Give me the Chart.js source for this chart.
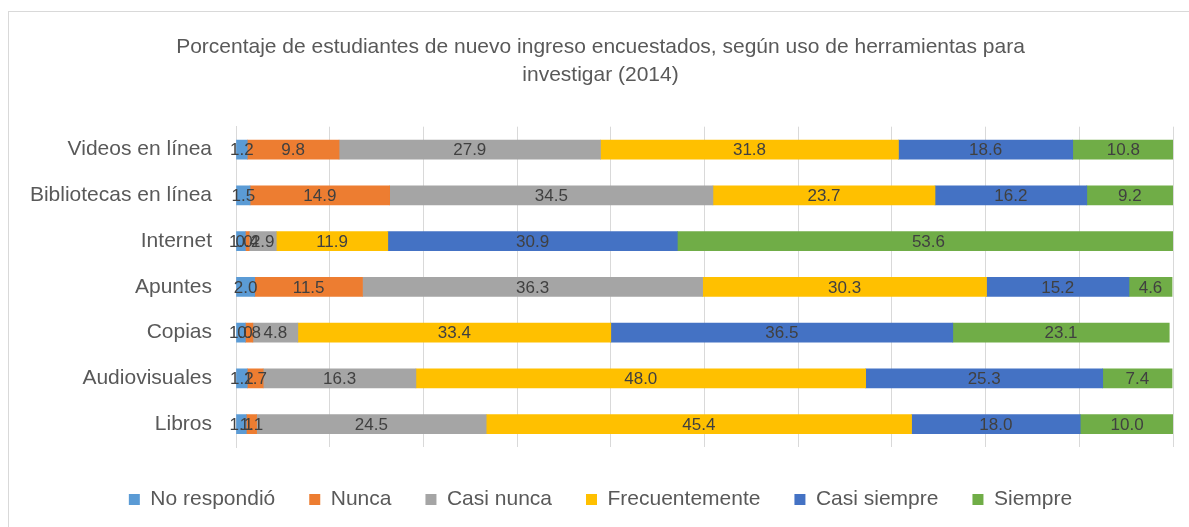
<!DOCTYPE html>
<html>
<head>
<meta charset="utf-8">
<script src="https://cdn.jsdelivr.net/npm/chart.js@4.4.1/dist/chart.umd.min.js"></script>
<style>
  html, body { margin: 0; padding: 0; background: #fff; }
  #wrap { position: relative; width: 1189px; height: 527px; overflow: hidden; }
  #frame {
    position: absolute; left: 8px; top: 11px; width: 1200px; height: 530px;
    border: 1px solid #d9d9d9; box-sizing: border-box;
  }
  #chartBox { position: absolute; left: 0; top: 0; width: 1189px; height: 527px; }
</style>
</head>
<body>
<div id="wrap">
  <div id="frame"></div>
  <div id="chartBox"><canvas id="toolsChart"></canvas></div>
</div>
<script>
// ================================
// DATA
// ================================

const categories = [
    "Videos en línea",
    "Bibliotecas en línea",
    "Internet",
    "Apuntes",
    "Copias",
    "Audiovisuales",
    "Libros"
];

const noRespondio    = [1.2, 1.5, 1.0, 2.0, 1.0, 1.2, 1.1];
const nunca          = [9.8, 14.9, 0.4, 11.5, 0.8, 1.7, 1.1];
const casiNunca      = [27.9, 34.5, 2.9, 36.3, 4.8, 16.3, 24.5];
const frecuentemente = [31.8, 23.7, 11.9, 30.3, 33.4, 48.0, 45.4];
const casiSiempre    = [18.6, 16.2, 30.9, 15.2, 36.5, 25.3, 18.0];
const siempre        = [10.8, 9.2, 53.6, 4.6, 23.1, 7.4, 10.0];

const FONT = "'Liberation Sans', Arial, sans-serif";

// ================================
// BAR LABELS (inline plugin)
// ================================

const barLabels = {
    id: "barLabels",
    afterDatasetsDraw(chart) {
        const ctx = chart.ctx;
        ctx.save();
        ctx.font = "17px " + FONT;
        ctx.fillStyle = "#404040";
        ctx.textAlign = "center";
        ctx.textBaseline = "middle";
        chart.data.datasets.forEach((ds, di) => {
            const meta = chart.getDatasetMeta(di);
            meta.data.forEach((bar, i) => {
                const v = ds.data[i];
                const cx = (bar.x + bar.base) / 2;
                ctx.fillText(v.toFixed(1), cx, bar.y + 1);
            });
        });
        ctx.restore();
    }
};

// ================================
// CHART
// ================================

const toolsCtx = document.getElementById("toolsChart");

const makeSet = (label, data, color) => ({
    label: label,
    data: data,
    backgroundColor: color,
    borderWidth: 0,
    barThickness: 19
});

new Chart(toolsCtx, {
    type: "bar",

    data: {
        labels: categories,
        datasets: [
            makeSet("No respondió", noRespondio, "#5b9bd5"),
            makeSet("Nunca", nunca, "#ed7d31"),
            makeSet("Casi nunca", casiNunca, "#a5a5a5"),
            makeSet("Frecuentemente", frecuentemente, "#ffc000"),
            makeSet("Casi siempre", casiSiempre, "#4472c4"),
            makeSet("Siempre", siempre, "#70ad47")
        ]
    },

    options: {
        indexAxis: "y",
        responsive: true,
        maintainAspectRatio: false,
        animation: false,

        layout: {
            padding: { left: 14, right: 2, top: 33, bottom: 7 }
        },

        plugins: {
            title: {
                display: true,
                text: [
                    "Porcentaje de estudiantes de nuevo ingreso encuestados, según uso de herramientas para",
                    "investigar (2014)"
                ],
                color: "#595959",
                font: { family: FONT, size: 21, weight: "normal", lineHeight: 1.35 },
                padding: { top: 0, bottom: 37 }
            },
            legend: {
                position: "bottom",
                labels: {
                    color: "#595959",
                    font: { family: FONT, size: 21 },
                    boxWidth: 11,
                    boxHeight: 11,
                    padding: 34
                }
            },
            tooltip: { enabled: false }
        },

        scales: {
            x: {
                stacked: true,
                min: 0,
                max: 100,
                afterFit(scale) { scale.height = 8; },
                ticks: { stepSize: 10, display: false },
                grid: { color: "#d9d9d9", drawTicks: false },
                border: { display: false }
            },
            y: {
                stacked: true,
                afterFit(scale) { scale.width = 222; },
                ticks: {
                    color: "#595959",
                    font: { family: FONT, size: 21 },
                    padding: 16
                },
                grid: { display: false },
                border: { display: true, color: "#d9d9d9" }
            },
            y2: {
                position: "right",
                afterFit(scale) { scale.width = 14; },
                ticks: { display: false },
                grid: { display: false, drawTicks: false },
                border: { display: false }
            }
        }
    },

    plugins: [barLabels]
});
</script>
</body>
</html>
